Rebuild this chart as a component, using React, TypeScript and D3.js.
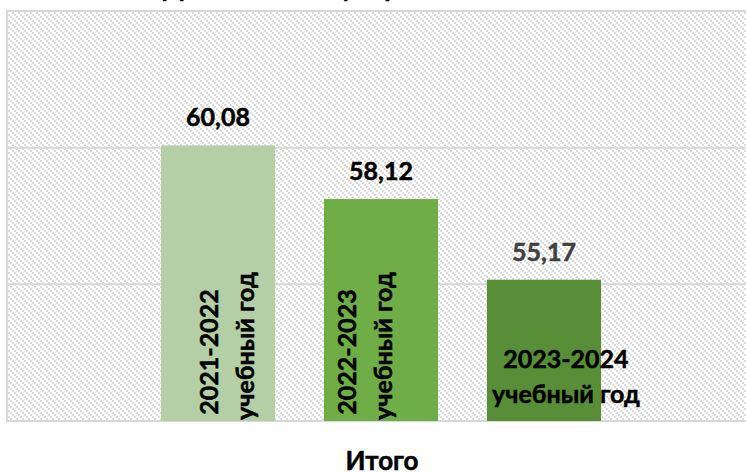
import React, { useEffect, useRef } from 'react';
import * as d3 from 'd3';

// данные
const category = 'Итого';
const seriesNames = ['2021-2022 учебный год', '2022-2023 учебный год', '2023-2024 учебный год'];
const seriesValues = [60.08, 58.12, 55.17];
const yTicks = [50, 55, 60, 65];

const barColors = ['#b4cfa6', '#6fad47', '#578e37'];
const valueColors = ['#000000', '#000000', '#404040'];

const W = 746;
const H = 473;

const App = () => {
    const svgRef = useRef<SVGSVGElement>(null);

    useEffect(() => {
        createChart();
    }, []);

    const createChart = () => {
        const plot = { left: 7, top: 11, right: 760, bottom: 421 };
        const font = 'Lato, "Open Sans", sans-serif';
        const fs = 25;

        const svg = d3.select(svgRef.current)
            .attr('width', W)
            .attr('height', H);
        svg.selectAll('*').remove();

        // штриховка фона
        const defs = svg.append('defs');
        const pat = defs.append('pattern')
            .attr('id', 'diag')
            .attr('patternUnits', 'userSpaceOnUse')
            .attr('width', 6)
            .attr('height', 6);
        pat.append('rect').attr('width', 6).attr('height', 6).attr('fill', '#ffffff');
        [0, 2, 4].forEach(i => {
            pat.append('rect')
                .attr('x', i).attr('y', i)
                .attr('width', 2).attr('height', 2)
                .attr('fill', '#dcdcdc');
        });

        svg.append('rect').attr('width', W).attr('height', H).attr('fill', '#ffffff');

        // шкалы
        const y = d3.scaleLinear()
            .domain([d3.min(yTicks), d3.max(yTicks)])
            .range([plot.bottom, plot.top]);

        const center = 381;
        const groupWidth = 440;
        const x = d3.scaleBand()
            .domain(seriesNames)
            .range([center - groupWidth / 2, center + groupWidth / 2])
            .paddingInner(0.3)
            .paddingOuter(0);

        // область построения
        svg.append('rect')
            .attr('x', plot.left)
            .attr('y', plot.top)
            .attr('width', plot.right - plot.left)
            .attr('height', plot.bottom - plot.top)
            .attr('fill', 'url(#diag)');

        // сетка
        svg.append('g')
            .selectAll('line')
            .data(yTicks)
            .enter().append('line')
            .attr('x1', plot.left)
            .attr('x2', plot.right)
            .attr('y1', d => y(d))
            .attr('y2', d => y(d))
            .attr('stroke', '#d9d9d9')
            .attr('stroke-width', 2);

        svg.append('line')
            .attr('x1', plot.left).attr('x2', plot.left)
            .attr('y1', plot.top - 1).attr('y2', plot.bottom + 1)
            .attr('stroke', '#d9d9d9')
            .attr('stroke-width', 2);

        // столбцы
        svg.append('g')
            .selectAll('rect')
            .data(seriesValues)
            .enter().append('rect')
            .attr('x', (d, i) => x(seriesNames[i]))
            .attr('width', x.bandwidth())
            .attr('y', d => y(d))
            .attr('height', d => plot.bottom - y(d))
            .attr('fill', (d, i) => barColors[i]);

        // общий стиль текста (жирнее, как Calibri Bold)
        const txt = (sel, color = '#000', size = fs) => sel
            .attr('font-family', font)
            .attr('font-weight', 'bold')
            .attr('font-size', size)
            .attr('fill', color)
            .attr('stroke', color)
            .attr('stroke-width', 0.5);

        // подписи значений
        svg.append('g')
            .selectAll('text')
            .data(seriesValues)
            .enter().append('text')
            .attr('x', (d, i) => x(seriesNames[i]) + x.bandwidth() / 2)
            .attr('y', d => y(d) - 19)
            .attr('text-anchor', 'middle')
            .call(s => txt(s))
            .attr('fill', (d, i) => valueColors[i])
            .attr('stroke', (d, i) => valueColors[i])
            .text(d => d3.format('.2f')(d).replace('.', ','));

        // подписи рядов (первые два повернуты)
        const split = (s: string) => {
            const k = s.indexOf(' ');
            return [s.slice(0, k), s.slice(k + 1)];
        };
        const rotOffsets = [0, -25];
        [0, 1].forEach(i => {
            const cx = x(seriesNames[i]) + x.bandwidth() / 2 + rotOffsets[i];
            const lines = split(seriesNames[i]);
            const g = svg.append('g')
                .attr('transform', `translate(${cx},${y(50) - 67}) rotate(-90)`);
            lines.forEach((l, j) => {
                g.append('text')
                    .attr('x', j === 0 ? 2 : 8)
                    .attr('y', j * 36)
                    .attr('text-anchor', 'middle')
                    .call(s => txt(s))
                    .text(l);
            });
        });

        const lines3 = split(seriesNames[2]);
        const cx3 = x(seriesNames[2]) + x.bandwidth() / 2 + 22;
        lines3.forEach((l, j) => {
            svg.append('text')
                .attr('x', cx3)
                .attr('y', 368 + j * 35)
                .attr('text-anchor', 'middle')
                .call(s => txt(s))
                .text(l);
        });

        // подпись оси
        svg.append('text')
            .attr('x', 382)
            .attr('y', 470)
            .attr('text-anchor', 'middle')
            .call(s => txt(s, '#000', 26))
            .text(category);

        // заголовок (обрезан сверху, видны только выносные элементы)
        svg.append('text')
            .attr('x', 163)
            .attr('y', -3)
            .attr('text-anchor', 'start')
            .call(s => txt(s, '#000', 26))
            .text('Динамика общей успеваемости');
    };

    return <svg ref={svgRef} style={{ position: 'absolute', left: 0, top: 0 }}></svg>;
};

export default App;
